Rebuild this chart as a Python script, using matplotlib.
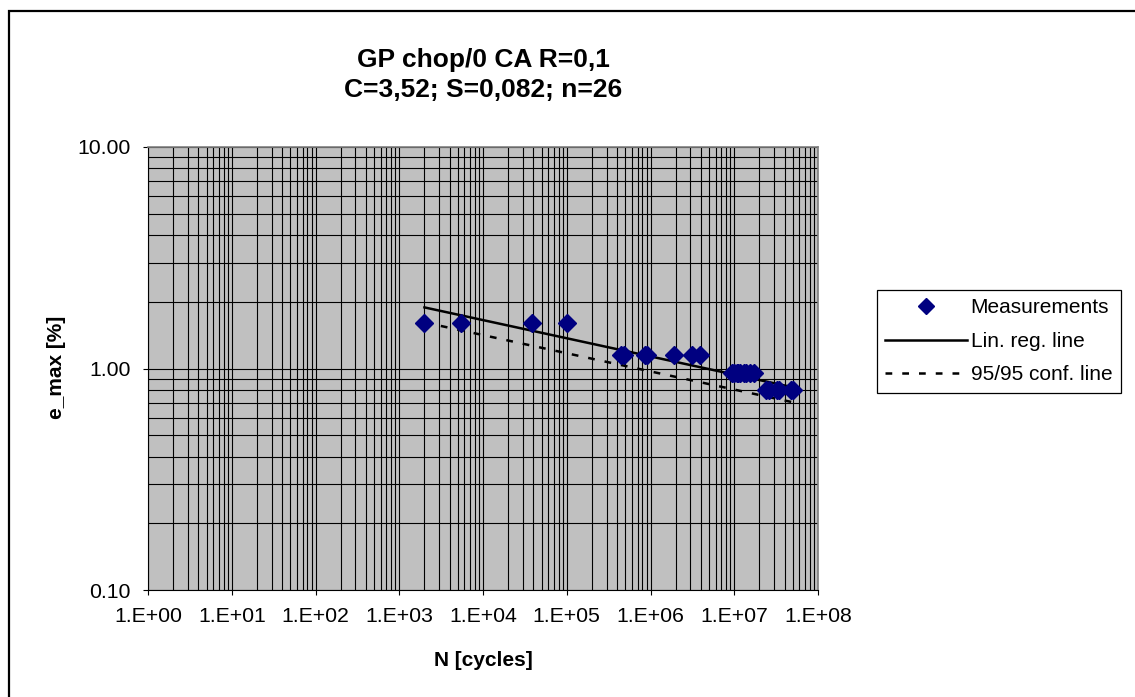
import numpy as np
import matplotlib.pyplot as plt
from matplotlib.ticker import LogLocator, FixedLocator, NullFormatter, FuncFormatter
from matplotlib.patches import Rectangle

plt.rcParams['font.family'] = ['Liberation Sans', 'DejaVu Sans']

# fatigue test results
n_cycles = [2.0e3, 5.5e3, 3.8e4, 1.0e5,
            4.5e5, 4.8e5, 8.5e5, 9.0e5, 1.9e6, 3.1e6, 3.9e6,
            9.3e6, 1.0e7, 1.07e7, 1.1e7, 1.17e7, 1.3e7, 1.4e7, 1.55e7, 1.7e7,
            2.4e7, 2.6e7, 3.2e7, 3.4e7, 4.8e7, 5.0e7]
e_max = [1.6, 1.6, 1.6, 1.6,
         1.15, 1.15, 1.15, 1.15, 1.15, 1.15, 1.15,
         0.95, 0.95, 0.95, 0.95, 0.95, 0.95, 0.95, 0.95, 0.95,
         0.8, 0.8, 0.8, 0.8, 0.8, 0.8]

# regression parameters (e = C * N^-S)
C = 3.52
S = 0.082
line_n = [2.0e3, 5.0e7]
conf_e = [1.615, 0.704]

x_ticks = [1e0, 1e1, 1e2, 1e3, 1e4, 1e5, 1e6, 1e7, 1e8]
y_ticks = [0.1, 1.0, 10.0]

W, H = 1135, 697
fig = plt.figure(figsize=(W / 100, H / 100), dpi=100)
ax = fig.add_axes([148 / W, 1 - 590 / H, 670 / W, 443 / H])
ax.set_facecolor('#C0C0C0')

line_n = np.array(line_n)
reg_e = C * line_n ** (-S)

ax.plot(line_n, reg_e, color='black', lw=1.8, label='Lin. reg. line', zorder=3)
ax.plot(line_n, conf_e, color='black', lw=1.8, ls=(0, (2.7, 4.0)),
        label='95/95 conf. line', zorder=3)
ax.plot(n_cycles, e_max, ls='none', marker='D', ms=9.5, color='#000080',
        mec='#000080', label='Measurements', zorder=4)

ax.set_xscale('log')
ax.set_yscale('log')
ax.set_xlim(1e0, 1e8)
ax.set_ylim(0.1, 10)

ax.xaxis.set_major_locator(FixedLocator(x_ticks))
ax.yaxis.set_major_locator(FixedLocator(y_ticks))
ax.xaxis.set_minor_locator(LogLocator(base=10, subs=np.arange(2, 10), numticks=100))
ax.yaxis.set_minor_locator(LogLocator(base=10, subs=np.arange(2, 10), numticks=100))
ax.xaxis.set_minor_formatter(NullFormatter())
ax.yaxis.set_minor_formatter(NullFormatter())
ax.xaxis.set_major_formatter(FuncFormatter(lambda v, p: '1.E+%02d' % round(np.log10(v))))
ax.yaxis.set_major_formatter(FuncFormatter(lambda v, p: '%.2f' % v))

ax.grid(which='both', color='black', lw=0.8, zorder=1)
ax.set_axisbelow(True)
ax.tick_params(which='major', direction='out', length=3.6, width=0.8,
               labelsize=15.3, pad=9, color='black')
ax.tick_params(which='minor', length=0)

for side in ['top', 'right']:
    ax.spines[side].set_color('#808080')
    ax.spines[side].set_linewidth(1.2)
for side in ['left', 'bottom']:
    ax.spines[side].set_color('black')
    ax.spines[side].set_linewidth(0.8)

# titles and axis labels
fig.text(483 / W, 1 - 66.7 / H, 'GP chop/0 CA R=0,1', ha='center', va='baseline',
         fontsize=19, fontweight='bold')
fig.text(483 / W, 1 - 96.7 / H, 'C=3,52; S=0,082; n=26', ha='center', va='baseline',
         fontsize=19, fontweight='bold')
fig.text(483 / W, 1 - 661 / H, 'N [cycles]', ha='center', va='center',
         fontsize=15, fontweight='bold')
fig.text(57 / W, 1 - 367.5 / H, 'e_max [%]', ha='center', va='center',
         rotation=90, fontsize=15, fontweight='bold')

handles, labels = ax.get_legend_handles_labels()
order = [2, 0, 1]
leg = ax.legend([handles[i] for i in order], [labels[i] for i in order],
                loc='upper left', bbox_to_anchor=(877 / W, 1 - 290 / H),
                bbox_transform=fig.transFigure, borderaxespad=0,
                fontsize=15, handlelength=3.9, handletextpad=0.2,
                borderpad=0.4, labelspacing=0.7, numpoints=1,
                fancybox=False, framealpha=1, edgecolor='black')
leg.get_frame().set_linewidth(0.9)
leg.legend_handles[0].set_markersize(8)

# outer chart border
fig.patches.append(Rectangle((8.5 / W, -0.1), 1.2, 1 - 10.5 / H + 0.1,
                             transform=fig.transFigure, fill=False,
                             edgecolor='black', lw=1.6, clip_on=False))

fig.savefig('out.png', dpi=100)
